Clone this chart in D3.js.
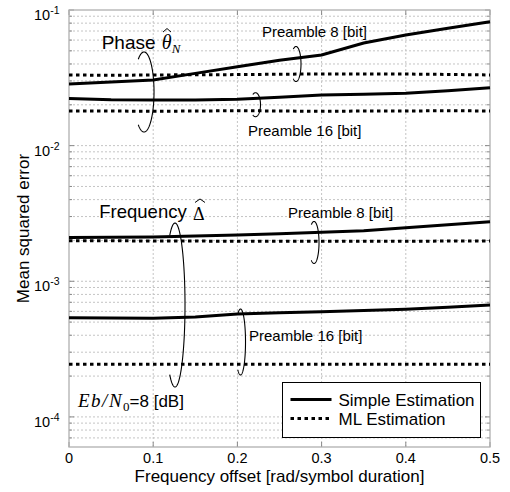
<!DOCTYPE html>
<html><head><meta charset="utf-8">
<script src="https://cdn.jsdelivr.net/npm/d3@7"></script>
<style>body{margin:0;background:#fff}</style>
</head><body><svg id="c" width="510" height="492" xmlns="http://www.w3.org/2000/svg"></svg>
<script>
// ---- data ----
const offsets = [0, 0.05, 0.1, 0.15, 0.2, 0.25, 0.3, 0.35, 0.4, 0.45, 0.5];
const phase8Simple  = [0.0285, 0.0294, 0.0305, 0.0341, 0.0382, 0.0426, 0.0466, 0.0571, 0.0654, 0.0733, 0.0820];
const phase8ML      = [0.0332, 0.0330, 0.0332, 0.0333, 0.0334, 0.0336, 0.0338, 0.0338, 0.0337, 0.0335, 0.0332];
const phase16Simple = [0.0223, 0.0218, 0.0217, 0.0217, 0.0220, 0.0227, 0.0236, 0.0239, 0.0243, 0.0254, 0.0267];
const phase16ML     = [0.0180, 0.0180, 0.0179, 0.0180, 0.0181, 0.0180, 0.0179, 0.0180, 0.0180, 0.0181, 0.0180];
const freq8Simple   = [0.00210, 0.00211, 0.00212, 0.00216, 0.00219, 0.00224, 0.00230, 0.00236, 0.00248, 0.00261, 0.00275];
const freq8ML       = [0.00199, 0.00199, 0.00198, 0.00198, 0.00197, 0.00197, 0.00197, 0.00197, 0.00197, 0.00198, 0.00198];
const freq16Simple  = [0.000539, 0.000537, 0.000533, 0.000545, 0.000574, 0.000586, 0.000597, 0.000609, 0.000622, 0.000643, 0.000669];
const freq16ML      = [0.000244, 0.000244, 0.000244, 0.000244, 0.000244, 0.000244, 0.000244, 0.000244, 0.000244, 0.000244, 0.000244];

const xTicks = [0, 0.1, 0.2, 0.3, 0.4, 0.5];
const xTickLabels = ["0", "0.1", "0.2", "0.3", "0.4", "0.5"];
const yTicks = [1e-4, 1e-3, 1e-2, 1e-1];
const yTickExponents = ["-4", "-3", "-2", "-1"];
const legendLabels = ["Simple Estimation", "ML Estimation"];
const xLabel = "Frequency offset [rad/symbol duration]";
const yLabel = "Mean squared error";

// annotation brackets (centre in data coords, radii in px, half-angle in deg)
const brackets = [
  {x: 0.0891, y: 0.02486, rx: 10, ry: 40, a: 125},
  {x: 0.2696, y: 0.0400, rx: 5, ry: 17.5, a: 122},
  {x: 0.2215, y: 0.02003, rx: 5, ry: 12, a: 122},
  {x: 0.1259, y: 0.000668, rx: 10, ry: 82, a: 122},
  {x: 0.2910, y: 0.001932, rx: 5, ry: 21, a: 122},
  {x: 0.2037, y: 0.0003567, rx: 5, ry: 33, a: 122}
];
const preambleLabels = [
  {text: "Preamble 8 [bit]", x: 0.2292, y: 0.0632},
  {text: "Preamble 16 [bit]", x: 0.2126, y: 0.01168},
  {text: "Preamble 8 [bit]", x: 0.2601, y: 0.002912},
  {text: "Preamble 16 [bit]", x: 0.2138, y: 0.000360}
];
// hat accents (apex in data coords, half-width px)
const hats = [
  {x: 0.1164, y: 0.0730, w: 4},
  {x: 0.1556, y: 0.004043, w: 5}
];

// ---- chart ----
const svg = d3.select("#c");
svg.append("rect").attr("width", 510).attr("height", 492).attr("fill", "#fff");
const x = d3.scaleLinear().domain([0, 0.5]).range([69, 490]);
const y = d3.scaleLog().domain([6e-5, 1e-1]).range([447, 10]);
const SANS = "'Liberation Sans', Arial, Helvetica, sans-serif";
const SERIF = "'Liberation Serif', 'Times New Roman', serif";

// grid
const gridY = [];
for (let e = -5; e <= -2; e++) for (let k = 1; k <= 9; k++) {
  const v = k * Math.pow(10, e);
  if (v >= 6e-5 * 1.0001 && v <= 1e-1 * 0.9999) gridY.push(v);
}
const g = svg.append("g");
g.selectAll(".gy").data(gridY).join("line")
  .attr("x1", x(0)).attr("x2", x(0.5))
  .attr("y1", d => y(d)).attr("y2", d => y(d))
  .attr("stroke", "#c4c4c4").attr("stroke-width", 1).attr("stroke-dasharray", "2,2");
g.selectAll(".gx").data(xTicks.slice(1, -1)).join("line")
  .attr("x1", d => x(d)).attr("x2", d => x(d))
  .attr("y1", y(6e-5)).attr("y2", y(1e-1))
  .attr("stroke", "#c4c4c4").attr("stroke-width", 1).attr("stroke-dasharray", "2,2");

// ticks inside
const isMajor = v => Math.abs(Math.log10(v) - Math.round(Math.log10(v))) < 1e-6;
gridY.concat([1e-1]).forEach(v => {
  const L = isMajor(v) ? 5 : 3;
  g.append("line").attr("x1", x(0)).attr("x2", x(0) + L).attr("y1", y(v)).attr("y2", y(v)).attr("stroke", "#888");
  g.append("line").attr("x1", x(0.5)).attr("x2", x(0.5) - L).attr("y1", y(v)).attr("y2", y(v)).attr("stroke", "#888");
});
xTicks.forEach(v => {
  g.append("line").attr("x1", x(v)).attr("x2", x(v)).attr("y1", y(6e-5)).attr("y2", y(6e-5) - 5).attr("stroke", "#888");
  g.append("line").attr("x1", x(v)).attr("x2", x(v)).attr("y1", y(1e-1)).attr("y2", y(1e-1) + 5).attr("stroke", "#888");
});

// frame
svg.append("rect").attr("x", x(0)).attr("y", y(1e-1))
  .attr("width", x(0.5) - x(0)).attr("height", y(6e-5) - y(1e-1))
  .attr("fill", "none").attr("stroke", "#b0b0b0").attr("stroke-width", 1.3);

// series
const series = [
  {v: phase8Simple, dash: null}, {v: phase8ML, dash: "3.5,3.5"},
  {v: phase16Simple, dash: null}, {v: phase16ML, dash: "3.5,3.5"},
  {v: freq8Simple, dash: null}, {v: freq8ML, dash: "3.5,3.5"},
  {v: freq16Simple, dash: null}, {v: freq16ML, dash: "3.5,3.5"}
];
const line = d3.line().x((d, i) => x(offsets[i])).y(d => y(d));
svg.selectAll(".s").data(series).join("path")
  .attr("d", d => line(d.v)).attr("fill", "none").attr("stroke", "#000")
  .attr("stroke-width", 3).attr("stroke-dasharray", d => d.dash);

// brackets
function arcPath(b) {
  const cx = x(b.x), cy = y(b.y);
  const pts = d3.range(-b.a, b.a + 0.01, 2).map(t => {
    const r = t * Math.PI / 180;
    return [cx + b.rx * Math.cos(r), cy + b.ry * Math.sin(r)];
  });
  return d3.line()(pts);
}
svg.selectAll(".br").data(brackets).join("path")
  .attr("d", arcPath).attr("fill", "none").attr("stroke", "#000").attr("stroke-width", 1.1);

// preamble labels
svg.selectAll(".pl").data(preambleLabels).join("text")
  .attr("x", d => x(d.x)).attr("y", d => y(d.y))
  .attr("font-family", SANS).attr("font-size", 15).text(d => d.text);

// Phase label
svg.append("text").attr("x", x(0.0388)).attr("y", y(0.05132))
  .attr("font-family", SANS).attr("font-size", 19).text("Phase");
svg.append("text").attr("x", x(0.1101)).attr("y", y(0.05132))
  .attr("font-family", SERIF).attr("font-style", "italic").attr("font-size", 20).text("θ");
svg.append("text").attr("x", x(0.122)).attr("y", y(0.0482))
  .attr("font-family", SERIF).attr("font-style", "italic").attr("font-size", 13).text("N");

// Frequency label
svg.append("text").attr("x", x(0.036)).attr("y", y(0.002912))
  .attr("font-family", SANS).attr("font-size", 18.5).text("Frequency");
svg.append("text").attr("x", x(0.1473)).attr("y", y(0.002853))
  .attr("font-family", SERIF).attr("font-size", 18).text("Δ");

// hat accents
svg.selectAll(".hat").data(hats).join("path")
  .attr("d", d => { const cx = x(d.x), cy = y(d.y); return `M${cx - d.w},${cy + 3.5}L${cx},${cy}L${cx + d.w},${cy + 3.5}`; })
  .attr("fill", "none").attr("stroke", "#000").attr("stroke-width", 1);

// Eb/N0 label
const eb = svg.append("text").attr("x", x(0.0107)).attr("y", y(0.000119));
eb.append("tspan").attr("font-family", SERIF).attr("font-style", "italic").attr("font-size", 19)
  .attr("letter-spacing", 1.5).text("Eb/N");
eb.append("tspan").attr("font-family", SERIF).attr("font-size", 13).attr("dy", 4).text("0");
eb.append("tspan").attr("font-family", SANS).attr("font-size", 17).attr("dy", -4).text("=8 [dB]");

// axis tick labels
svg.selectAll(".xt").data(xTicks).join("text")
  .attr("x", d => x(d)).attr("y", y(6e-5) + 16).attr("text-anchor", "middle")
  .attr("font-family", SANS).attr("font-size", 14.5).text((d, i) => xTickLabels[i]);
yTicks.forEach((v, i) => {
  const t = svg.append("text").attr("x", x(0) - 9.5).attr("y", y(v) + 10).attr("text-anchor", "end")
    .attr("font-family", SANS).attr("font-size", 14.5);
  t.append("tspan").text("10");
  t.append("tspan").attr("font-size", 10.5).attr("dy", -6).text(yTickExponents[i]);
});

// axis labels
svg.append("text").attr("x", (x(0) + x(0.5)) / 2).attr("y", 482).attr("text-anchor", "middle")
  .attr("font-family", SANS).attr("font-size", 17).text(xLabel);
svg.append("text").attr("transform", `translate(29,${(y(6e-5) + y(1e-1)) / 2}) rotate(-90)`)
  .attr("text-anchor", "middle").attr("font-family", SANS).attr("font-size", 17).text(yLabel);

// legend
const lg = svg.append("g").attr("transform", "translate(282.5,382.5)");
lg.append("rect").attr("width", 198).attr("height", 55).attr("fill", "#fff").attr("stroke", "#000").attr("stroke-width", 1);
legendLabels.forEach((lab, i) => {
  const yy = 17 + i * 19;
  lg.append("line").attr("x1", 8).attr("x2", 49).attr("y1", yy).attr("y2", yy)
    .attr("stroke", "#000").attr("stroke-width", 3).attr("stroke-dasharray", i ? "3.5,3.5" : null);
  lg.append("text").attr("x", 56).attr("y", yy + 6).attr("font-family", SANS).attr("font-size", 17).text(lab);
});
</script></body></html>
